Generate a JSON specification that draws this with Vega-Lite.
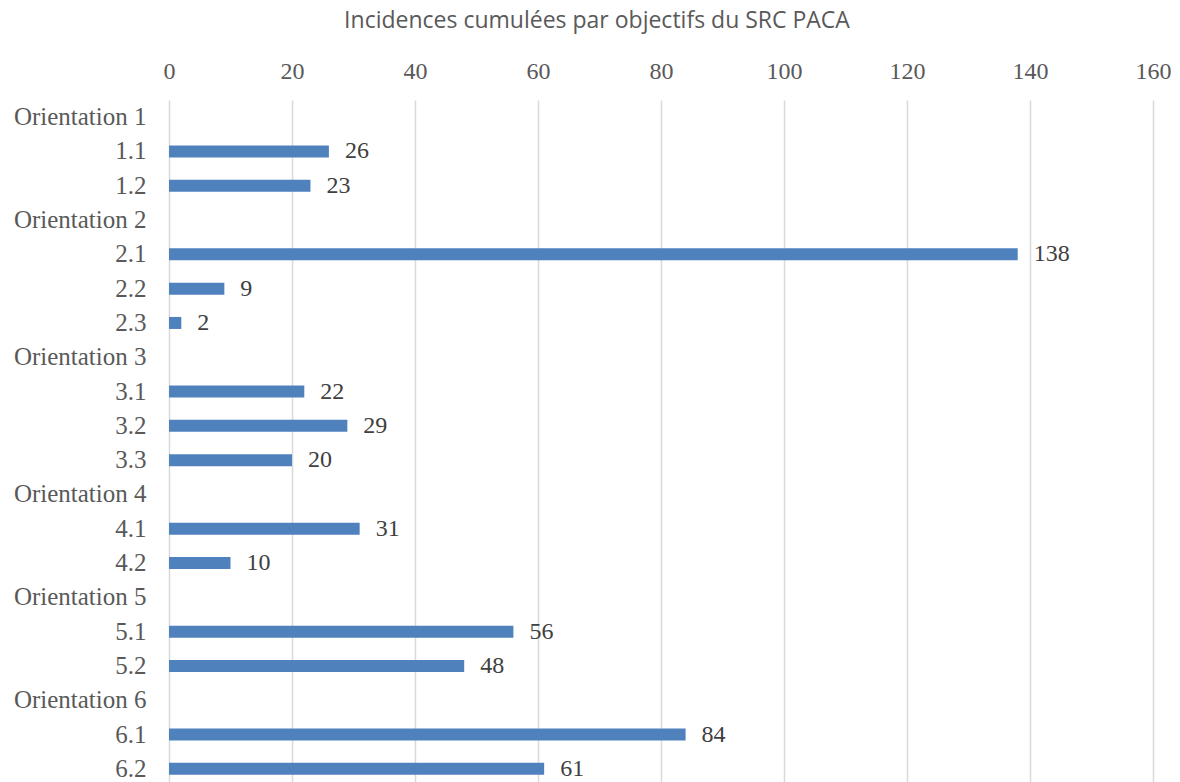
{
  "$schema": "https://vega.github.io/schema/vega-lite/v6.json",
  "autosize": {"type": "none"},
  "padding": {"left": 169, "top": 100, "right": 27, "bottom": 0},
  "width": 984,
  "height": 682,
  "background": "white",
  "title": {
    "text": "Incidences cumulées par objectifs du SRC PACA",
    "font": "Open Sans",
    "fontSize": 23,
    "fontWeight": "normal",
    "color": "#595959",
    "anchor": "middle",
    "dx": -64,
    "offset": 26
  },
  "data": {
    "values": [
      {"cat": "Orientation 1", "value": null},
      {"cat": "1.1", "value": 26},
      {"cat": "1.2", "value": 23},
      {"cat": "Orientation 2", "value": null},
      {"cat": "2.1", "value": 138},
      {"cat": "2.2", "value": 9},
      {"cat": "2.3", "value": 2},
      {"cat": "Orientation 3", "value": null},
      {"cat": "3.1", "value": 22},
      {"cat": "3.2", "value": 29},
      {"cat": "3.3", "value": 20},
      {"cat": "Orientation 4", "value": null},
      {"cat": "4.1", "value": 31},
      {"cat": "4.2", "value": 10},
      {"cat": "Orientation 5", "value": null},
      {"cat": "5.1", "value": 56},
      {"cat": "5.2", "value": 48},
      {"cat": "Orientation 6", "value": null},
      {"cat": "6.1", "value": 84},
      {"cat": "6.2", "value": 61}
    ]
  },
  "encoding": {
    "y": {
      "field": "cat",
      "type": "nominal",
      "sort": null,
      "title": null,
      "scale": {
        "domain": ["Orientation 1", "1.1", "1.2", "Orientation 2", "2.1", "2.2", "2.3", "Orientation 3", "3.1", "3.2", "3.3", "Orientation 4", "4.1", "4.2", "Orientation 5", "5.1", "5.2", "Orientation 6", "6.1", "6.2"],
        "range": [0, 686],
        "paddingInner": 0.65,
        "paddingOuter": 0.325
      },
      "axis": {
        "orient": "left",
        "domain": false,
        "ticks": false,
        "labelPadding": 23,
        "labelFont": "Liberation Serif",
        "labelFontSize": 25,
        "labelColor": "#595959",
        "labelLimit": 300
      }
    },
    "x": {
      "field": "value",
      "type": "quantitative",
      "title": null,
      "scale": {"domain": [0, 160], "nice": false},
      "axis": {
        "orient": "top",
        "values": [0, 20, 40, 60, 80, 100, 120, 140, 160],
        "domain": false,
        "ticks": false,
        "grid": true,
        "gridColor": "#d9d9d9",
        "gridWidth": 1.5,
        "labelPadding": 17,
        "labelFont": "Liberation Serif",
        "labelFontSize": 24,
        "labelColor": "#595959",
        "labelFlush": false,
        "labelOverlap": false
      }
    }
  },
  "layer": [
    {
      "transform": [{"filter": "datum.value != null"}],
      "mark": {"type": "bar", "color": "#4f81bd"}
    },
    {
      "transform": [{"filter": "datum.value != null"}],
      "mark": {
        "type": "text",
        "align": "left",
        "baseline": "middle",
        "dx": 16,
        "font": "Liberation Serif",
        "fontSize": 24,
        "color": "#404040"
      },
      "encoding": {"text": {"field": "value", "type": "quantitative"}}
    }
  ],
  "config": {"view": {"stroke": null}}
}
